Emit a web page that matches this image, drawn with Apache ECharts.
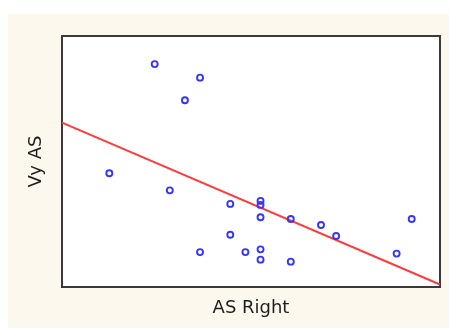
<!DOCTYPE html>
<html>
<head>
<meta charset="utf-8">
<script src="https://cdn.jsdelivr.net/npm/echarts@6/dist/echarts.min.js"></script>
<style>
html,body{margin:0;padding:0;background:#ffffff;}
#chart{width:449px;height:329px;}
</style>
</head>
<body>
<div id="chart"></div>
<script>
// Data (arbitrary units, no tick labels shown)
const xValues = [3, 6, 7, 8, 9, 9, 11, 11, 12, 13, 13, 13, 13, 13, 15, 15, 17, 18, 22, 23];
const yValues = [45.3, 88.8, 38.5, 74.4, 83.4, 13.9, 33.1, 20.8, 13.9, 34.3, 32.7, 27.8, 15.0, 10.9, 27.1, 10.1, 24.7, 20.3, 13.3, 27.1];
// Regression line end points
const lineX = [-0.13, 24.87];
const lineY = [65.5, 1.0];
const xTitle = 'AS Right';
const yTitle = 'Vy AS';

const scatterData = xValues.map((x, i) => [x, yValues[i]]);
const lineData = lineX.map((x, i) => [x, lineY[i]]);

const chart = echarts.init(document.getElementById('chart'), null, {renderer: 'canvas'});
chart.setOption({
  animation: false,
  backgroundColor: '#ffffff',
  graphic: [{
    type: 'rect',
    z: -10,
    silent: true,
    shape: {x: 8, y: 14, width: 441, height: 314},
    style: {fill: '#fdf8ed'}
  }],
  grid: {
    left: 62, top: 36, right: 9, bottom: 42,
    show: true,
    backgroundColor: '#ffffff',
    borderColor: '#3a3a3a',
    borderWidth: 2
  },
  xAxis: {
    type: 'value',
    min: lineX[0], max: lineX[1],
    name: xTitle,
    nameLocation: 'middle',
    nameGap: 12,
    nameTextStyle: {fontFamily: 'DejaVu Sans', fontSize: 18, color: '#1e1e1e'},
    axisLine: {show: false},
    axisTick: {show: false},
    axisLabel: {show: false},
    splitLine: {show: false}
  },
  yAxis: {
    type: 'value',
    min: 0, max: 100,
    name: yTitle,
    nameLocation: 'middle',
    nameGap: 17,
    nameTextStyle: {fontFamily: 'DejaVu Sans', fontSize: 18, color: '#1e1e1e'},
    axisLine: {show: false},
    axisTick: {show: false},
    axisLabel: {show: false},
    splitLine: {show: false}
  },
  series: [
    {
      type: 'line',
      data: lineData,
      symbol: 'none',
      lineStyle: {color: '#ff3b3b', width: 2},
      z: 2
    },
    {
      type: 'scatter',
      data: scatterData,
      symbol: 'circle',
      symbolSize: 6,
      itemStyle: {color: 'rgba(0,0,0,0)', borderColor: '#3535ff', borderWidth: 1.9, opacity: 1},
      z: 3
    }
  ]
});
</script>
</body>
</html>
